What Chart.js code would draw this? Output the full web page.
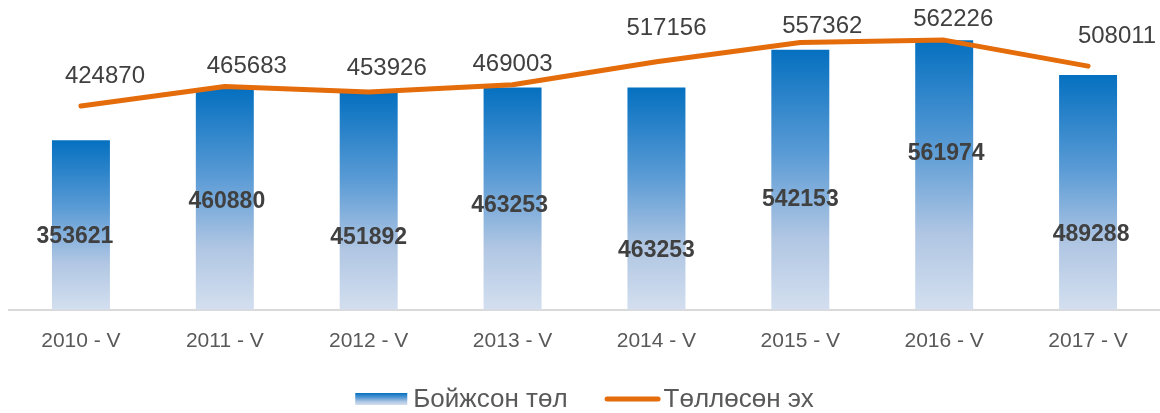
<!DOCTYPE html>
<html lang="mn">
<head>
    <meta charset="utf-8">
    <title>Бойжсон төл, төллөсөн эх</title>
    <script src="https://cdn.jsdelivr.net/npm/chart.js"></script>
    <style>
        body { margin: 0; background: #fff; }
    </style>
</head>
<body>
    <canvas id="youngChart" width="1160" height="413"></canvas>

    <script>
        // data
        var years = ['2010 - V', '2011 - V', '2012 - V', '2013 - V', '2014 - V', '2015 - V', '2016 - V', '2017 - V'];
        var raisedYoung = [353621, 460880, 451892, 463253, 463253, 542153, 561974, 489288];
        var birthMothers = [424870, 465683, 453926, 469003, 517156, 557362, 562226, 508011];
        var seriesNames = ['Бойжсон төл', 'Төллөсөн эх'];

        // label nudges (px) - labels were moved by hand in the original
        var barLabelShift = [[-6, 12], [2, 2], [0, 36], [-3, 7], [0, 52], [0, 20], [2, -21], [3, 42]];
        var lineLabelShift = [[24, -30], [22, -20], [18, -24], [0, -20], [10, -33], [22, -16], [9, -21], [29, -30]];

        var FONT = '"Liberation Sans", Arial, sans-serif';
        var ORANGE = '#e46c0a';

        function blueGradient(ctx, top, bottom) {
            var g = ctx.createLinearGradient(0, top, 0, bottom);
            g.addColorStop(0, '#0570c0');
            g.addColorStop(0.4, '#5a9bd5');
            g.addColorStop(0.72, '#b0c6e3');
            g.addColorStop(1, '#d3dfef');
            return g;
        }

        var valueLabels = {
            id: 'valueLabels',
            afterDatasetsDraw: function(chart) {
                var ctx = chart.ctx;
                ctx.save();
                ctx.textAlign = 'center';
                ctx.textBaseline = 'middle';
                ctx.fillStyle = '#404040';

                ctx.font = 'bold 23px ' + FONT;
                chart.getDatasetMeta(0).data.forEach(function(bar, i) {
                    var mid = (bar.y + bar.base) / 2;
                    ctx.fillText(String(raisedYoung[i]), bar.x + barLabelShift[i][0], mid + barLabelShift[i][1]);
                });

                ctx.font = '24px ' + FONT;
                chart.getDatasetMeta(1).data.forEach(function(pt, i) {
                    ctx.fillText(String(birthMothers[i]), pt.x + lineLabelShift[i][0], pt.y + lineLabelShift[i][1]);
                });
                ctx.restore();
            }
        };

        // legend drawn by hand so the swatch gets its own gradient and spacing
        var bottomLegend = {
            id: 'bottomLegend',
            afterDraw: function(chart) {
                var ctx = chart.ctx;
                ctx.save();
                ctx.font = '26px ' + FONT;
                ctx.textBaseline = 'middle';
                var w0 = ctx.measureText(seriesNames[0]).width;
                var w1 = ctx.measureText(seriesNames[1]).width;
                var total = 52 + 6 + w0 + 37 + 56 + 3 + w1;
                var x = (chart.chartArea.left + chart.chartArea.right) / 2 - total / 2;
                var cy = chart.height - 14;

                ctx.fillStyle = blueGradient(ctx, cy - 6, cy + 6);
                ctx.fillRect(x, cy - 6, 52, 12);
                x += 58;
                ctx.fillStyle = '#595959';
                ctx.fillText(seriesNames[0], x, cy + 1);
                x += w0 + 37;

                ctx.strokeStyle = ORANGE;
                ctx.lineWidth = 5;
                ctx.lineCap = 'round';
                ctx.beginPath();
                ctx.moveTo(x + 2.5, cy);
                ctx.lineTo(x + 53.5, cy);
                ctx.stroke();
                x += 59;
                ctx.fillText(seriesNames[1], x, cy + 1);
                ctx.restore();
            }
        };

        var ctx = document.getElementById('youngChart').getContext('2d');
        var myChart = new Chart(ctx, {
            data: {
                labels: years,
                datasets: [{
                    type: 'bar',
                    label: seriesNames[0],
                    data: raisedYoung,
                    order: 1,
                    barPercentage: 0.403,
                    categoryPercentage: 1,
                    borderWidth: 0,
                    backgroundColor: function(c) {
                        var chart = c.chart;
                        if (!chart.chartArea || c.type !== 'data') return '#5a9bd5';
                        var y = chart.scales.y;
                        return blueGradient(chart.ctx, y.getPixelForValue(c.raw), y.getPixelForValue(0));
                    }
                }, {
                    type: 'line',
                    label: seriesNames[1],
                    data: birthMothers,
                    order: 0,
                    borderColor: ORANGE,
                    backgroundColor: ORANGE,
                    borderWidth: 5,
                    borderCapStyle: 'round',
                    borderJoinStyle: 'round',
                    pointRadius: 0,
                    tension: 0
                }]
            },
            options: {
                responsive: false,
                animation: false,
                layout: {
                    padding: { left: 9, right: 0, top: 22, bottom: 48 }
                },
                scales: {
                    x: {
                        grid: { display: false },
                        border: { color: '#d9d9d9', width: 2 },
                        ticks: {
                            color: '#595959',
                            font: { family: FONT, size: 21 },
                            padding: 11,
                            maxRotation: 0
                        }
                    },
                    y: {
                        display: false,
                        min: 0,
                        max: 600000
                    }
                },
                plugins: {
                    tooltip: { enabled: false },
                    legend: { display: false }
                }
            },
            plugins: [valueLabels, bottomLegend]
        });
    </script>
</body>
</html>
